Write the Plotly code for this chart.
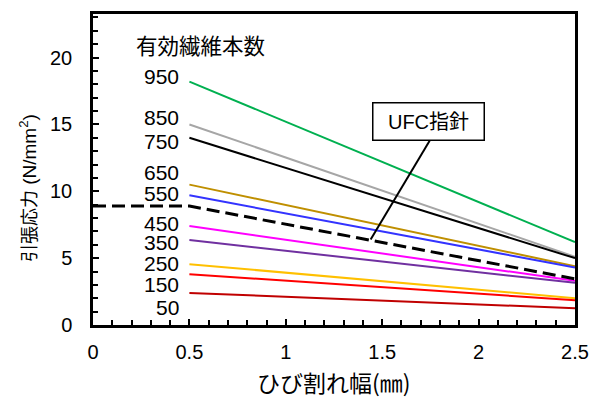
import plotly.graph_objects as go

# ---- data ----
crack_width = [0.5, 2.5]                      # mm
fiber_counts = ["950", "850", "750", "650", "550", "450", "350", "250", "150", "50"]
stress_at_05 = [18.2, 15.0, 14.0, 10.5, 9.7, 7.4, 6.35, 4.55, 3.8, 2.4]
stress_at_25 = [6.2, 5.1, 5.0, 4.4, 4.3, 3.3, 3.15, 2.0, 1.85, 1.25]
label_y = [18.6, 15.5, 13.7, 11.4, 9.8, 7.6, 6.2, 4.6, 3.0, 1.3]
line_colors = ["#00B050", "#A6A6A6", "#000000", "#BF8F00", "#3333FF",
               "#FF00FF", "#7030A0", "#FFC000", "#FF0000", "#C00000"]

ufc_x = [0, 0.5, 2.5]
ufc_y = [8.9, 8.9, 3.45]

FONT = "Liberation Sans, Arial, Noto Sans CJK JP"
JP = "Noto Sans CJK JP, Liberation Sans"

fig = go.Figure()
for name, s0, s1, c in zip(fiber_counts, stress_at_05, stress_at_25, line_colors):
    fig.add_trace(go.Scatter(x=crack_width, y=[s0, s1], mode="lines",
                             line=dict(color=c, width=2), name=name,
                             showlegend=False, hoverinfo="skip"))
fig.add_trace(go.Scatter(x=ufc_x, y=ufc_y, mode="lines",
                         line=dict(color="black", width=3, dash="13px,6px"),
                         name="UFC指針", showlegend=False))

annotations = []
for name, ly in zip(fiber_counts, label_y):
    annotations.append(dict(x=0.455, y=ly, xref="x", yref="y", text=name,
                            showarrow=False, xanchor="right", yanchor="middle",
                            font=dict(size=21, color="black", family=FONT)))
annotations.append(dict(x=0.56, y=20.95, xref="x", yref="y", text="有効繊維本数",
                        showarrow=False, xanchor="center", yanchor="middle",
                        font=dict(size=21.5, color="black", family=JP)))
annotations.append(dict(x=1.741, y=15.19, xref="x", yref="y", text="UFC指針",
                        showarrow=False, xanchor="center", yanchor="middle",
                        bgcolor="white", bordercolor="black", borderwidth=1.5,
                        borderpad=6, width=98, height=24,
                        font=dict(size=20, color="black", family=FONT)))
# axis titles
annotations.append(dict(x=-0.135, y=0.44, xref="paper", yref="paper",
                        text='<span style="font-size:18px">引張応力</span> (N/mm<sup>2</sup>)',
                        textangle=-90,
                        showarrow=False, xanchor="center", yanchor="middle",
                        font=dict(size=19, color="black", family=FONT)))
annotations.append(dict(x=0.5, y=-0.183, xref="paper", yref="paper",
                        text="ひび割れ幅(㎜)",
                        showarrow=False, xanchor="center", yanchor="middle",
                        font=dict(size=23, color="black", family=JP)))

fig.update_layout(
    width=600, height=399,
    margin=dict(l=93, r=25, t=11, b=74),
    paper_bgcolor="white", plot_bgcolor="white",
    showlegend=False,
    font=dict(family=FONT, size=20, color="black"),
    annotations=annotations,
    shapes=[dict(type="line", xref="x", yref="y", x0=1.746, y0=13.78, x1=1.44, y1=6.4,
                 line=dict(color="black", width=2))],
)
fig.update_xaxes(range=[0, 2.5], dtick=0.5, tick0=0, showgrid=False, zeroline=False,
                 showline=True, linecolor="black", linewidth=2.5, mirror=True,
                 ticks="inside", ticklen=6, tickwidth=1.5, tickcolor="black",
                 ticklabelstandoff=7,
                 minor=dict(dtick=0.1, ticks="inside", ticklen=5, tickwidth=1.5,
                            tickcolor="black", showgrid=False),
                 tickfont=dict(size=20, family=FONT))
fig.update_yaxes(range=[0, 23.26], dtick=5, tick0=0, showgrid=False, zeroline=False,
                 showline=True, linecolor="black", linewidth=2.5, mirror=True,
                 ticks="inside", ticklen=6, tickwidth=1.5, tickcolor="black",
                 ticklabelstandoff=14,
                 minor=dict(dtick=1, ticks="inside", ticklen=5, tickwidth=1.5,
                            tickcolor="black", showgrid=False),
                 tickfont=dict(size=20, family=FONT))

fig.write_html("out.html", config={"displayModeBar": False},
               post_script="document.body.style.margin='0px';document.body.style.overflow='hidden';")
